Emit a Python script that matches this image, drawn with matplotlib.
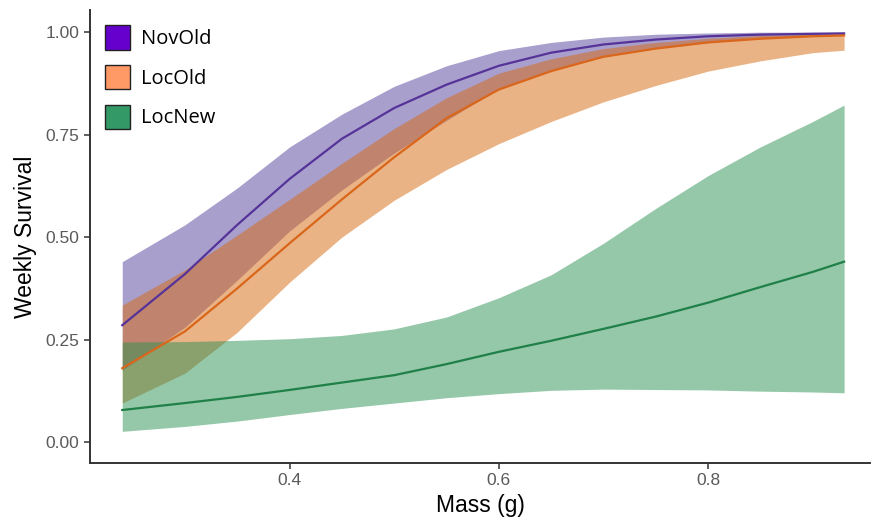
import numpy as np
import matplotlib
matplotlib.use('Agg')
import matplotlib.pyplot as plt
from matplotlib.patches import Patch

# data
mass = [0.24, 0.30, 0.35, 0.40, 0.45, 0.50, 0.55, 0.60, 0.65, 0.70, 0.75, 0.80, 0.85, 0.90, 0.93]

nov_old_fit = [0.285, 0.41, 0.53, 0.642, 0.74, 0.815, 0.872, 0.918, 0.95, 0.97, 0.982, 0.99, 0.994, 0.996, 0.997]
nov_old_lo = [0.175, 0.28, 0.395, 0.515, 0.615, 0.705, 0.785, 0.862, 0.908, 0.94, 0.96, 0.975, 0.985, 0.99, 0.993]
nov_old_hi = [0.44, 0.53, 0.62, 0.72, 0.80, 0.868, 0.918, 0.955, 0.975, 0.988, 0.995, 0.998, 1.0, 1.0, 1.0]

loc_old_fit = [0.18, 0.27, 0.375, 0.485, 0.592, 0.695, 0.79, 0.86, 0.905, 0.94, 0.96, 0.975, 0.984, 0.99, 0.992]
loc_old_lo = [0.095, 0.168, 0.268, 0.39, 0.50, 0.59, 0.665, 0.728, 0.782, 0.83, 0.87, 0.905, 0.93, 0.95, 0.956]
loc_old_hi = [0.334, 0.42, 0.505, 0.592, 0.68, 0.765, 0.84, 0.90, 0.935, 0.96, 0.975, 0.985, 0.992, 0.995, 0.997]

loc_new_fit = [0.078, 0.095, 0.11, 0.127, 0.145, 0.163, 0.19, 0.22, 0.247, 0.276, 0.306, 0.34, 0.378, 0.415, 0.44]
loc_new_lo = [0.026, 0.038, 0.051, 0.067, 0.082, 0.095, 0.108, 0.118, 0.126, 0.129, 0.128, 0.127, 0.124, 0.122, 0.12]
loc_new_hi = [0.244, 0.245, 0.248, 0.252, 0.26, 0.276, 0.305, 0.352, 0.408, 0.485, 0.57, 0.65, 0.72, 0.782, 0.822]

groups = ['NovOld', 'LocOld', 'LocNew']
key_colors = ['#6600cc', '#ff9966', '#339966']
band_colors = ['#55419b', '#d7690f', '#2d9155']
line_colors = ['#553399', '#d9661a', '#1f8048']

fits = [nov_old_fit, loc_old_fit, loc_new_fit]
lows = [nov_old_lo, loc_old_lo, loc_new_lo]
highs = [nov_old_hi, loc_old_hi, loc_new_hi]

fig = plt.figure(figsize=(8.72, 5.29), dpi=100)
ax = fig.add_axes([0.103, 0.125, 0.895, 0.856])

for i in range(3):
    ax.fill_between(mass, lows[i], highs[i], color=band_colors[i], alpha=0.5, linewidth=0)
    ax.plot(mass, fits[i], color=line_colors[i], linewidth=1.6)

ax.set_xlim(0.209, 0.955)
ax.set_ylim(-0.051, 1.054)
ax.set_xticks([0.4, 0.6, 0.8])
ax.set_xticklabels(['0.4', '0.6', '0.8'])
ax.set_yticks([0, 0.25, 0.5, 0.75, 1.0])
ax.set_yticklabels(['0.00', '0.25', '0.50', '0.75', '1.00'])

for s in ['top', 'right']:
    ax.spines[s].set_visible(False)
for s in ['left', 'bottom']:
    ax.spines[s].set_color('#333333')
    ax.spines[s].set_linewidth(1.4)
ax.tick_params(colors='#333333', labelcolor='#5a5a5a', labelsize=12.5, length=4, width=1.1)
for lab in ax.get_xticklabels() + ax.get_yticklabels():
    lab.set_family('Liberation Sans')

ax.set_xlabel('Mass (g)', fontsize=16.5, family='Liberation Sans', labelpad=4)
ax.set_ylabel('Weekly Survival', fontsize=16.5, family='Liberation Sans', labelpad=6)

handles = [Patch(facecolor=key_colors[i], edgecolor='#222222', linewidth=1.0, label=groups[i]) for i in range(3)]
ax.legend(handles=handles, loc='upper left', bbox_to_anchor=(0.0, 1.0), frameon=False,
          prop={'family': 'Open Sans', 'size': 14.5}, handlelength=1.24, handleheight=1.5,
          handletextpad=0.55, labelspacing=0.75, borderaxespad=0.35)

fig.savefig('out.png', dpi=100)
